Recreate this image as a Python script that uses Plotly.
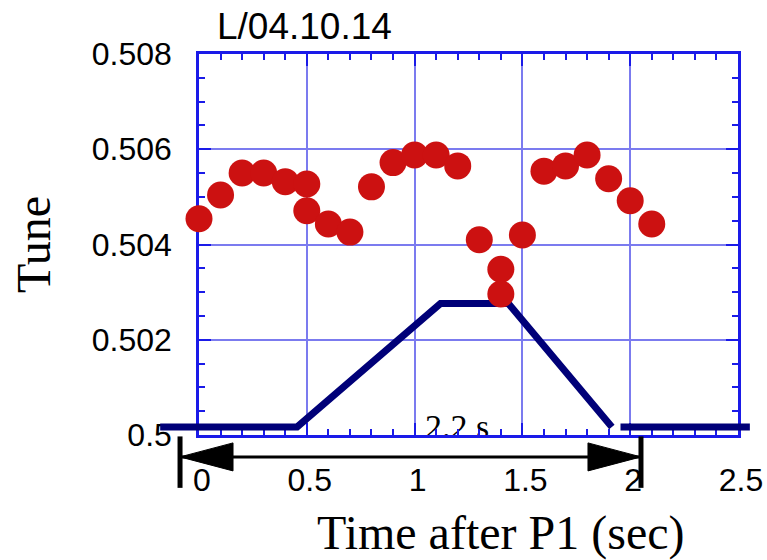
import plotly.graph_objects as go

# ---------------- data ----------------
time_s = [0.0, 0.1, 0.2, 0.3, 0.4, 0.5, 0.5, 0.6, 0.7, 0.8, 0.9, 1.0,
          1.1, 1.2, 1.3, 1.4, 1.4, 1.5, 1.6, 1.7, 1.8, 1.9, 2.0, 2.1]
tune = [0.50454, 0.50504, 0.50550, 0.50550, 0.50532, 0.50527, 0.50471, 0.50443,
        0.50426, 0.50521, 0.50572, 0.50588, 0.50588, 0.50565, 0.50410, 0.50348,
        0.50296, 0.50420, 0.50554, 0.50565, 0.50588, 0.50538, 0.50492, 0.50443]

ramp_t = [-0.18, 0.455, 1.12, 1.435, 1.915, None, 1.955, 2.555]
ramp_v = [0.50017, 0.50017, 0.50276, 0.50276, 0.50017, None, 0.50017, 0.50017]

x_tickvals = [0, 0.5, 1, 1.5, 2, 2.5]
x_ticktext = ["0", "0.5", "1", "1.5", "2", "2.5"]
y_tickvals = [0.5, 0.502, 0.504, 0.506, 0.508]
y_ticktext = ["0.5", "0.502", "0.504", "0.506", "0.508"]

span_label = "2.2 s"
span_start, span_end = -0.088, 2.05
span_label_x, span_label_y = 1.197, 0.50012
arrow_y = 0.49954
bar_top, bar_bottom = 0.49997, 0.49889

# ---------------- layout geometry ----------------
W, H = 767, 560
px_l, px_r, px_t, px_b = 199, 738, 54, 435
x_range = [0, 2.5]
y_range = [0.5, 0.508]

xs = (px_r - px_l) / (x_range[1] - x_range[0])
ys = (px_b - px_t) / (y_range[1] - y_range[0])
x2_range = [x_range[0] - px_l / xs, x_range[0] + (W - px_l) / xs]
y2_range = [y_range[0] - (H - px_b) / ys, y_range[0] + px_b / ys]

FRAME = "#1a1ae8"
GRID = "#7b7bef"
NAVY = "#000078"
RED = "#cc1111"
SANS = "Liberation Sans, Arial, sans-serif"
SERIF = "Liberation Serif, Times New Roman, serif"

fig = go.Figure()

# text label under the frame (on main axes so frame draws over it)
fig.add_trace(go.Scatter(
    x=[span_label_x], y=[span_label_y], mode="text", text=[span_label],
    textposition="middle center", cliponaxis=False,
    textfont=dict(family=SERIF, size=34, color="black"),
    showlegend=False, hoverinfo="skip", xaxis="x", yaxis="y"))

# ramp line (extends beyond frame) on full-figure overlay axes
fig.add_trace(go.Scatter(
    x=ramp_t, y=ramp_v, mode="lines",
    line=dict(color=NAVY, width=7),
    showlegend=False, hoverinfo="skip", xaxis="x2", yaxis="y2"))

# tune data points
fig.add_trace(go.Scatter(
    x=time_s, y=tune, mode="markers",
    marker=dict(color=RED, size=27, line=dict(width=0)),
    cliponaxis=False, showlegend=False, xaxis="x2", yaxis="y2"))

# span arrow with bars
hl = 53 / xs
hh = 14 / ys
shapes = [
    dict(type="line", xref="x2", yref="y2", x0=span_start, x1=span_end,
         y0=arrow_y, y1=arrow_y, line=dict(color="black", width=3)),
    dict(type="path", xref="x2", yref="y2",
         path=f"M {span_start},{arrow_y} L {span_start + hl},{arrow_y + hh} "
              f"L {span_start + hl},{arrow_y - hh} Z",
         fillcolor="black", line=dict(color="black", width=1)),
    dict(type="path", xref="x2", yref="y2",
         path=f"M {span_end},{arrow_y} L {span_end - hl},{arrow_y + hh} "
              f"L {span_end - hl},{arrow_y - hh} Z",
         fillcolor="black", line=dict(color="black", width=1)),
    dict(type="line", xref="x2", yref="y2", x0=span_start, x1=span_start,
         y0=bar_top, y1=bar_bottom, line=dict(color="black", width=5)),
    dict(type="line", xref="x2", yref="y2", x0=span_end, x1=span_end,
         y0=bar_top, y1=bar_bottom, line=dict(color="black", width=5)),
]

axis_common = dict(
    showline=True, linecolor=FRAME, linewidth=2.5, mirror="allticks",
    ticks="inside", ticklen=12, tickwidth=2, tickcolor=FRAME,
    showgrid=True, gridcolor=GRID, gridwidth=2, zeroline=False,
    tickfont=dict(family=SANS, size=32, color="black"),
    tickmode="array", layer="above traces", fixedrange=True,
    automargin=False,
)

fig.update_layout(
    width=W, height=H,
    margin=dict(l=0, r=0, t=0, b=0, autoexpand=False),
    paper_bgcolor="white", plot_bgcolor="rgba(0,0,0,0)",
    xaxis=dict(domain=[px_l / W, px_r / W], range=x_range,
               tickvals=x_tickvals, ticktext=x_ticktext,
               ticklabelstandoff=15, ticklabelshift=3,
               minor=dict(dtick=0.1, tick0=0, ticks="inside", ticklen=6,
                          tickwidth=2, tickcolor=FRAME, showgrid=False),
               anchor="y", **axis_common),
    yaxis=dict(domain=[(H - px_b) / H, (H - px_t) / H], range=y_range,
               tickvals=y_tickvals, ticktext=y_ticktext,
               ticklabelstandoff=18,
               minor=dict(dtick=0.0005, tick0=0.5, ticks="inside", ticklen=6,
                          tickwidth=2, tickcolor=FRAME, showgrid=False),
               anchor="x", **axis_common),
    xaxis2=dict(domain=[0, 1], range=x2_range, visible=False, anchor="y2",
                fixedrange=True),
    yaxis2=dict(domain=[0, 1], range=y2_range, visible=False, anchor="x2",
                fixedrange=True),
    shapes=shapes,
    annotations=[
        dict(text="L/04.10.14", xref="paper", yref="paper",
             x=215 / W, y=1 - 26 / H, xanchor="left", yanchor="middle",
             showarrow=False, font=dict(family=SANS, size=37, color="black")),
        dict(text="Tune", xref="paper", yref="paper", textangle=-90,
             x=33 / W, y=1 - 245 / H, xanchor="center", yanchor="middle",
             showarrow=False, font=dict(family=SERIF, size=48, color="black")),
        dict(text="Time after P1 (sec)", xref="paper", yref="paper",
             x=500 / W, y=1 - 533 / H, xanchor="center", yanchor="middle",
             showarrow=False, font=dict(family=SERIF, size=48, color="black")),
    ],
)

fig.write_html("out.html")
